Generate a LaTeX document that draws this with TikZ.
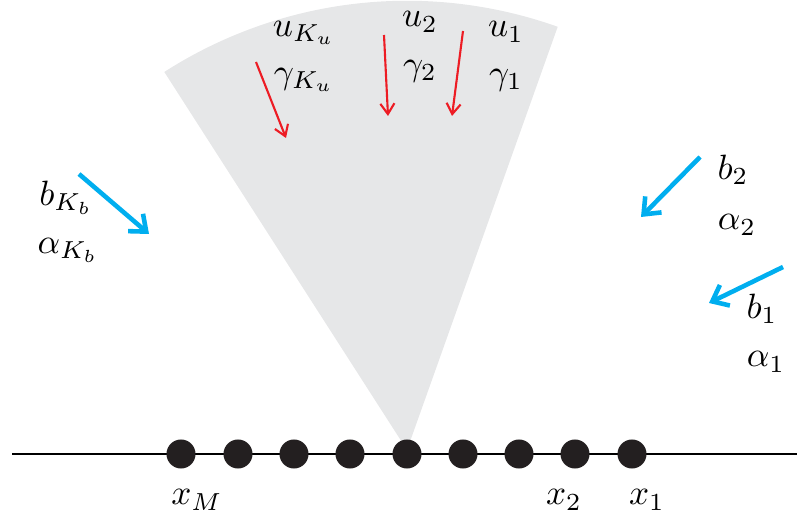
\documentclass[tikz,border=0pt]{standalone}
\usetikzlibrary{arrows.meta}
\definecolor{sectorgray}{RGB}{230,231,232}
\definecolor{arrred}{RGB}{237,28,36}
\definecolor{arrblue}{RGB}{0,174,239}
\definecolor{dotblack}{RGB}{35,31,32}
\tikzset{
  lbl/.style={inner sep=0pt},
  dotnode/.style={circle,fill=dotblack,minimum size=0.29cm,inner sep=0pt},
  redarr/.style={draw=arrred,line width=0.6pt,-{Straight Barb[length=3pt,width=4pt]}},
  bluearr/.style={draw=arrblue,line width=1.3pt,-{Straight Barb[length=4pt,width=6.5pt]}},
}
\begin{document}
\begin{tikzpicture}[x=0.01cm,y=-0.01cm]
\useasboundingbox (0,0) rectangle (797,525);
% sector
\coordinate (apex) at (407,450);
\fill[sectorgray] (apex) -- ++(122.7:4.49cm) arc[start angle=122.7,end angle=70.4,radius=4.49cm] -- cycle;
% base line
\coordinate (L) at (12,454);
\coordinate (R) at (797,454);
\draw[line width=0.4pt] (L) -- (R);
% dots
\foreach \i/\x in {9/181,8/238,7/294,6/350,5/407,4/463,3/519,2/575,1/632}{
  \node[dotnode] (d\i) at (\x,454) {};
}
% x labels
\node[lbl] (xM) at (197,500) {$x_M$};
\node[lbl] (x2) at (564,500) {$x_2$};
\node[lbl] (x1) at (647,500) {$x_1$};
% red arrows and labels
\coordinate (ru3s) at (256,62); \coordinate (ru3e) at (286,138);
\coordinate (ru2s) at (384,35); \coordinate (ru2e) at (388,116);
\coordinate (ru1s) at (463,31); \coordinate (ru1e) at (452,116);
\draw[redarr] (ru3s) -- (ru3e);
\draw[redarr] (ru2s) -- (ru2e);
\draw[redarr] (ru1s) -- (ru1e);
\node[lbl] (uK) at (304,33) {$u_{K_u}$};
\node[lbl] (gK) at (304,80) {$\gamma_{K_u}$};
\node[lbl] (u2) at (420,22) {$u_2$};
\node[lbl] (g2) at (420,71) {$\gamma_2$};
\node[lbl] (u1) at (506,32) {$u_1$};
\node[lbl] (g1) at (506,80) {$\gamma_1$};
% blue arrows and labels
\coordinate (bKs) at (79,174); \coordinate (bKe) at (149,234);
\coordinate (b2s) at (700,157); \coordinate (b2e) at (641,217);
\coordinate (b1s) at (783,267); \coordinate (b1e) at (709,303);
\draw[bluearr] (bKs) -- (bKe);
\draw[bluearr] (b2s) -- (b2e);
\draw[bluearr] (b1s) -- (b1e);
\node[lbl] (bK) at (66,198) {$b_{K_b}$};
\node[lbl] (aK) at (68,250) {$\alpha_{K_b}$};
\node[lbl] (b2) at (733,170) {$b_2$};
\node[lbl] (a2) at (737,225) {$\alpha_2$};
\node[lbl] (b1) at (762,309) {$b_1$};
\node[lbl] (a1) at (766,362) {$\alpha_1$};
\end{tikzpicture}
\end{document}
